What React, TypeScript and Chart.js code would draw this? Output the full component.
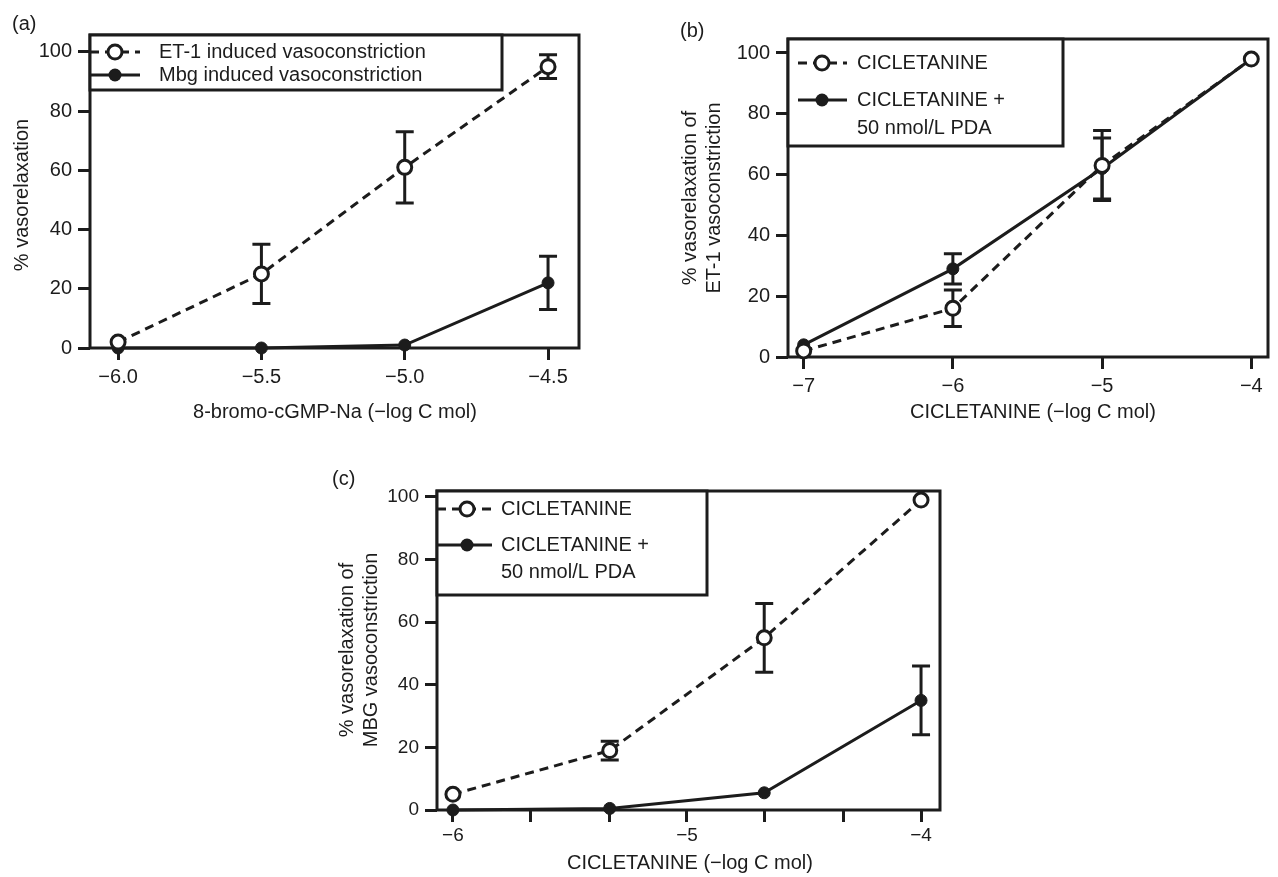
import React, { useEffect, useRef } from "react";
import { Chart, registerables } from "chart.js";

Chart.register(...registerables);

const FONT = '"Liberation Sans", Arial, Helvetica, sans-serif';
const INK = "#1c1c1c";

// ---------- Panel (a) ----------
const aConc = [-6.0, -5.5, -5.0, -4.5];
const aET1 = [2, 25, 61, 95];
const aET1Err = [0, 10, 12, 4];
const aMbg = [0, 0, 1, 22];
const aMbgErr = [0, 0, 0, 9];
const aXTicks = [-6.0, -5.5, -5.0, -4.5];
const aXTickLabels = ["\u22126.0", "\u22125.5", "\u22125.0", "\u22124.5"];
const aNames = ["ET-1 induced vasoconstriction", "Mbg induced vasoconstriction"];

// ---------- Panel (b) ----------
const bConc = [-7, -6, -5, -4];
const bCic = [2, 16, 63, 98];
const bCicErr = [0, 6, 11.5, 0];
const bPda = [4, 29, 62, 98];
const bPdaErr = [0, 5, 10, 0];
const bXTicks = [-7, -6, -5, -4];
const bXTickLabels = ["\u22127", "\u22126", "\u22125", "\u22124"];

// ---------- Panel (c) ----------
const cConc = [-6, -5.33, -4.67, -4];
const cCic = [5, 19, 55, 99];
const cCicErr = [0, 3, 11, 0];
const cPda = [0, 0.5, 5.5, 35];
const cPdaErr = [0, 0, 0, 11];
const cXTicks = [-6, -5.67, -5.33, -5, -4.67, -4.33, -4];
const cXTickLabels = ["\u22126", "", "", "\u22125", "", "", "\u22124"];

const cicNames = ["CICLETANINE", "CICLETANINE +|50 nmol/L PDA"];

const yTicks = [0, 20, 40, 60, 80, 100];
const yTickLabels = ["0", "20", "40", "60", "80", "100"];

type LegendCfg = {
  w: number;
  h: number;
  rowY: number[];
  lineGap: number;
  sx0: number;
  sx1: number;
  mx: number;
  tx: number;
};

type PanelCfg = {
  left: number;
  top: number;
  width: number;
  height: number;
  area: { l: number; t: number; r: number; b: number };
  xMin: number;
  xMax: number;
  yMax: number;
  xTicks: number[];
  xLabels: string[];
  conc: number[];
  open: number[];
  openErr: number[];
  filled: number[];
  filledErr: number[];
  names: string[];
  tickSize: number;
  xPad: number;
  legend: LegendCfg;
};

const panels: PanelCfg[] = [
  {
    left: 0,
    top: 0,
    width: 640,
    height: 440,
    area: { l: 90, t: 35, r: 579, b: 348 },
    xMin: -6.098,
    xMax: -4.392,
    yMax: 105.7,
    xTicks: aXTicks,
    xLabels: aXTickLabels,
    conc: aConc,
    open: aET1,
    openErr: aET1Err,
    filled: aMbg,
    filledErr: aMbgErr,
    names: aNames,
    tickSize: 20,
    xPad: 5,
    legend: { w: 412, h: 55, rowY: [17, 40], lineGap: 27, sx0: 0, sx1: 50, mx: 25, tx: 69 },
  },
  {
    left: 640,
    top: 0,
    width: 638,
    height: 440,
    area: { l: 148, t: 39, r: 637, b: 357 },
    xMin: -7.105,
    xMax: -3.888,
    yMax: 104.6,
    xTicks: bXTicks,
    xLabels: bXTickLabels,
    conc: bConc,
    open: bCic,
    openErr: bCicErr,
    filled: bPda,
    filledErr: bPdaErr,
    names: cicNames,
    tickSize: 20,
    xPad: 5,
    legend: { w: 275, h: 107, rowY: [24, 61], lineGap: 28, sx0: 10, sx1: 59, mx: 34, tx: 69 },
  },
  {
    left: 300,
    top: 440,
    width: 660,
    height: 437,
    area: { l: 137, t: 51, r: 640, b: 370 },
    xMin: -6.068,
    xMax: -3.919,
    yMax: 101.9,
    xTicks: cXTicks,
    xLabels: cXTickLabels,
    conc: cConc,
    open: cCic,
    openErr: cCicErr,
    filled: cPda,
    filledErr: cPdaErr,
    names: cicNames,
    tickSize: 19,
    xPad: 2,
    legend: { w: 270, h: 104, rowY: [18, 54], lineGap: 27, sx0: 0, sx1: 55, mx: 30, tx: 64 },
  },
];

function drawOpen(ctx: CanvasRenderingContext2D, x: number, y: number) {
  ctx.beginPath();
  ctx.arc(x, y, 7, 0, Math.PI * 2);
  ctx.fillStyle = "#fff";
  ctx.fill();
  ctx.lineWidth = 3;
  ctx.strokeStyle = INK;
  ctx.stroke();
}

function drawFilled(ctx: CanvasRenderingContext2D, x: number, y: number) {
  ctx.beginPath();
  ctx.arc(x, y, 6.5, 0, Math.PI * 2);
  ctx.fillStyle = INK;
  ctx.fill();
}

function makeDecor(cfg: PanelCfg) {
  return {
    id: "panelDecor",
    beforeDatasetsDraw(chart: any) {
      const { ctx, chartArea: ca, scales } = chart;
      const xs = scales.x;
      const ys = scales.y;
      ctx.save();
      ctx.strokeStyle = INK;
      ctx.lineWidth = 3;
      ctx.setLineDash([]);
      ctx.strokeRect(ca.left, ca.top, ca.right - ca.left, ca.bottom - ca.top);
      const series = [
        { vals: cfg.open, errs: cfg.openErr },
        { vals: cfg.filled, errs: cfg.filledErr },
      ];
      series.forEach((s) => {
        s.vals.forEach((v, i) => {
          const e = s.errs[i];
          if (!e) return;
          const px = xs.getPixelForValue(cfg.conc[i]);
          const y1 = ys.getPixelForValue(v + e);
          const y2 = ys.getPixelForValue(v - e);
          ctx.beginPath();
          ctx.moveTo(px, y1);
          ctx.lineTo(px, y2);
          ctx.moveTo(px - 9, y1);
          ctx.lineTo(px + 9, y1);
          ctx.moveTo(px - 9, y2);
          ctx.lineTo(px + 9, y2);
          ctx.stroke();
        });
      });
      ctx.restore();
    },
    afterDatasetsDraw(chart: any) {
      const { ctx, chartArea: ca } = chart;
      const lg = cfg.legend;
      const L = ca.left;
      const T = ca.top;
      ctx.save();
      ctx.fillStyle = "#fff";
      ctx.fillRect(L, T, lg.w, lg.h);
      ctx.strokeStyle = INK;
      ctx.lineWidth = 3;
      ctx.strokeRect(L, T, lg.w, lg.h);
      ctx.font = `20px ${FONT}`;
      ctx.textBaseline = "middle";
      ctx.textAlign = "left";
      cfg.names.forEach((name, r) => {
        const y = T + lg.rowY[r];
        ctx.beginPath();
        ctx.setLineDash(r === 0 ? [9, 6] : []);
        ctx.lineWidth = 3;
        ctx.strokeStyle = INK;
        ctx.moveTo(L + lg.sx0, y);
        ctx.lineTo(L + lg.sx1, y);
        ctx.stroke();
        ctx.setLineDash([]);
        if (r === 0) drawOpen(ctx, L + lg.mx, y);
        else drawFilled(ctx, L + lg.mx, y);
        ctx.fillStyle = INK;
        name.split("|").forEach((line, k) => {
          ctx.fillText(line, L + lg.tx, y + k * lg.lineGap);
        });
      });
      ctx.restore();
    },
  };
}

function Panel({ cfg }: { cfg: PanelCfg }) {
  const ref = useRef<HTMLCanvasElement | null>(null);
  useEffect(() => {
    if (!ref.current) return;
    const tickFont = { size: cfg.tickSize, family: FONT };
    const chart = new Chart(ref.current, {
      type: "line",
      data: {
        datasets: [
          {
            label: cfg.names[0],
            data: cfg.conc.map((x, i) => ({ x, y: cfg.open[i] })),
            borderColor: INK,
            borderWidth: 3,
            borderDash: [9, 6],
            pointRadius: 7,
            pointBorderWidth: 3,
            pointBackgroundColor: "#fff",
            pointBorderColor: INK,
            tension: 0,
            clip: false,
          },
          {
            label: cfg.names[1].replace("|", " "),
            data: cfg.conc.map((x, i) => ({ x, y: cfg.filled[i] })),
            borderColor: INK,
            borderWidth: 3,
            pointRadius: 6,
            pointBorderWidth: 1,
            pointBackgroundColor: INK,
            pointBorderColor: INK,
            tension: 0,
            clip: false,
          },
        ],
      },
      options: {
        responsive: false,
        animation: false,
        layout: {
          padding: { top: cfg.area.t, right: cfg.width - cfg.area.r, left: 0, bottom: 0 },
        },
        plugins: {
          legend: { display: false },
          tooltip: { enabled: false },
          title: { display: false },
        },
        scales: {
          x: {
            type: "linear",
            min: cfg.xMin,
            max: cfg.xMax,
            afterBuildTicks: (s: any) => {
              s.ticks = cfg.xTicks.map((v) => ({ value: v }));
            },
            afterFit: (s: any) => {
              s.height = cfg.height - cfg.area.b;
            },
            ticks: {
              autoSkip: false,
              maxRotation: 0,
              minRotation: 0,
              padding: cfg.xPad,
              color: INK,
              font: tickFont,
              callback: (v: any) => {
                const i = cfg.xTicks.findIndex((t) => Math.abs(t - Number(v)) < 1e-6);
                return i >= 0 ? cfg.xLabels[i] : "";
              },
            },
            grid: {
              drawOnChartArea: false,
              drawTicks: true,
              tickLength: 12,
              tickWidth: 3,
              tickColor: INK,
              lineWidth: 3,
              color: INK,
            },
            border: { display: false },
          },
          y: {
            type: "linear",
            min: 0,
            max: cfg.yMax,
            afterBuildTicks: (s: any) => {
              s.ticks = yTicks.map((v) => ({ value: v }));
            },
            afterFit: (s: any) => {
              s.width = cfg.area.l;
            },
            ticks: {
              autoSkip: false,
              padding: 6,
              color: INK,
              font: tickFont,
              callback: (v: any) => {
                const i = yTicks.findIndex((t) => Math.abs(t - Number(v)) < 1e-6);
                return i >= 0 ? yTickLabels[i] : "";
              },
            },
            grid: {
              drawOnChartArea: false,
              drawTicks: true,
              tickLength: 12,
              tickWidth: 3,
              tickColor: INK,
              lineWidth: 3,
              color: INK,
            },
            border: { display: false },
          },
        },
      } as any,
      plugins: [makeDecor(cfg)],
    });
    return () => chart.destroy();
  }, [cfg]);
  return (
    <canvas
      ref={ref}
      width={cfg.width}
      height={cfg.height}
      style={{
        position: "absolute",
        left: cfg.left,
        top: cfg.top,
        width: cfg.width,
        height: cfg.height,
      }}
    />
  );
}

const textBase: React.CSSProperties = {
  position: "absolute",
  fontFamily: FONT,
  fontSize: 20,
  color: INK,
  whiteSpace: "nowrap",
  lineHeight: "24px",
};

function Label({ x, y, text, rotate }: { x: number; y: number; text: string; rotate?: boolean }) {
  return (
    <div
      style={{
        ...textBase,
        left: x,
        top: y,
        textAlign: "center",
        transform: `translate(-50%, -50%)${rotate ? " rotate(-90deg)" : ""}`,
      }}
    >
      {text.split("|").map((t, i) => (
        <div key={i}>{t}</div>
      ))}
    </div>
  );
}

export default function App() {
  useEffect(() => {
    document.body.style.margin = "0";
  }, []);
  return (
    <div
      style={{
        position: "absolute",
        left: 0,
        top: 0,
        width: 1278,
        height: 877,
        background: "#fff",
        overflow: "hidden",
      }}
    >
      {panels.map((p, i) => (
        <Panel key={i} cfg={p} />
      ))}
      <div style={{ ...textBase, left: 12, top: 11 }}>(a)</div>
      <div style={{ ...textBase, left: 680, top: 18 }}>(b)</div>
      <div style={{ ...textBase, left: 332, top: 466 }}>(c)</div>

      <Label x={21} y={195} text="% vasorelaxation" rotate />
      <Label x={335} y={411} text={"8-bromo-cGMP-Na (\u2212log C mol)"} />

      <Label x={701} y={198} text="% vasorelaxation of|ET-1 vasoconstriction" rotate />
      <Label x={1033} y={411} text={"CICLETANINE (\u2212log C mol)"} />

      <Label x={358} y={650} text="% vasorelaxation of|MBG vasoconstriction" rotate />
      <Label x={690} y={862} text={"CICLETANINE (\u2212log C mol)"} />
    </div>
  );
}
